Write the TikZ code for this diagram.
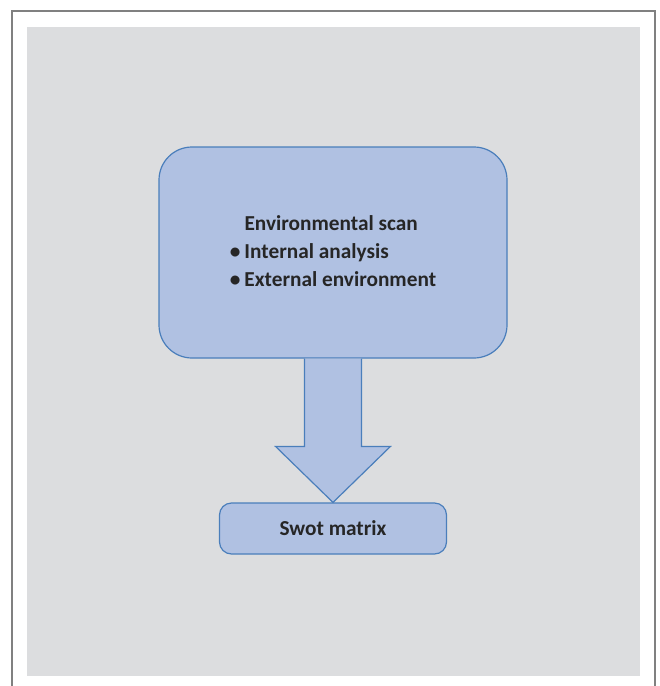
\documentclass[tikz,border=0pt]{standalone}
\usepackage{fontspec}
\setmainfont{Carlito}
\usepackage{tikz}
\usetikzlibrary{calc}

\definecolor{pagegray}{HTML}{DCDDDF}
\definecolor{boxfill}{HTML}{B0C1E2}
\definecolor{boxline}{HTML}{4A7EBB}
\definecolor{framegray}{HTML}{808080}

\begin{document}
\begin{tikzpicture}[x=1pt, y=-1pt,
	every node/.style={font=\fontsize{21.3}{28}\selectfont\bfseries, text=black!85},
	box/.style={draw=boxline, fill=boxfill, line width=1.2pt, align=left, inner sep=0pt}]
	\useasboundingbox (0,0) rectangle (660,686);
	\draw[framegray, line width=1.8pt] (12,690) -- (12,11) -- (655,11) -- (655,690);
	\fill[pagegray] (27,27) rectangle (640,676);
	% main box and result box
	\node[box, rounded corners=33pt, minimum width=348pt, minimum height=211pt] (scan) at (333,252.5)
		{\begin{tabular}{@{}l@{\hspace{4pt}}l@{}}
			& Environmental scan\\
			\textbullet & Internal analysis\\
			\textbullet & External environment
		\end{tabular}};
	\node[box, rounded corners=12pt, minimum width=227pt, minimum height=51pt] (swot) at (333,528.5) {Swot matrix};
	% block arrow from scan down to swot
	\draw[boxline, fill=boxfill, line width=1.2pt, line join=miter]
		($(scan.south)+(-28.5,0)$) -- ($(swot.north)+(-28.5,-56)$) -- ($(swot.north)+(-57.5,-56)$)
		-- (swot.north) -- ($(swot.north)+(57.5,-56)$) -- ($(swot.north)+(28.5,-56)$)
		-- ($(scan.south)+(28.5,0)$);
\end{tikzpicture}
\end{document}
